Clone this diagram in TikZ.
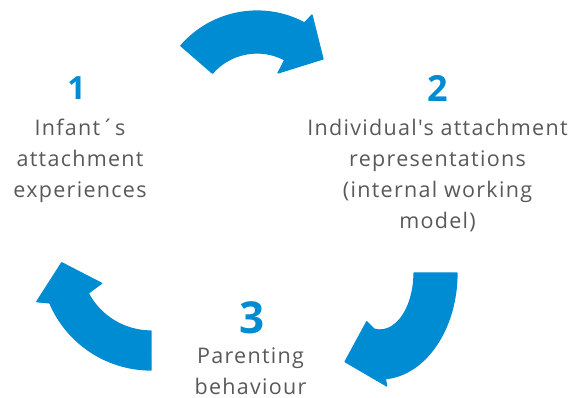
\documentclass[tikz,border=0pt]{standalone}
\usepackage{fontspec}
\setmainfont{Open Sans}[Ligatures=TeXOff,LetterSpace=6]
\definecolor{cycleblue}{RGB}{0,140,210}
\definecolor{labelgray}{RGB}{89,89,89}
\tikzset{
  bigarrow/.style={fill=cycleblue,draw=cycleblue,line width=1.2pt,line join=round},
  stepnum/.style={text=cycleblue,inner sep=0pt,font=\bfseries\fontsize{#1}{#1}\selectfont},
  steplabel/.style={text=labelgray,inner sep=0pt,align=center,anchor=base,
    font=\fontsize{21.5}{31}\selectfont}
}
\begin{document}
\begin{tikzpicture}[x=1pt,y=-1pt]
                \useasboundingbox (0,0) rectangle (569,398);

                % arrows
                \filldraw [bigarrow] (257,112) ++(-139:101)
                      arc[start angle=-139,end angle=-62,radius=101]
                      -- (312,15) -- (323,59) -- (278,73) -- (284.7,59.9)
                      arc[start angle=-62,end angle=-139,radius=59] -- cycle;
                \filldraw [bigarrow] (457,273)
                      arc[start angle=0,end angle=86,x radius=77,y radius=106]
                      -- (386.7,386) -- (345,361.7) -- (366.7,321.7) -- (374.1,329.1)
                      arc[start angle=100,end angle=0,x radius=34,y radius=57] -- cycle;
                \filldraw [bigarrow] (151,370)
                      arc[start angle=90,end angle=157,radius=110]
                      -- (36.7,301.7) -- (61.7,262.7) -- (101.7,283.3) -- (88.3,293.3)
                      arc[start angle=152,end angle=90,radius=71] -- cycle;

                \node [stepnum=32] (num1) at (76.5,88) {1};
                \node [stepnum=36] (num2) at (437.5,88) {2};
                \node [stepnum=44] (num3) at (251.7,317.5) {3};

                % labels (base = last line)
                \node [steplabel] (infant) at (80,197.5) {Infant´s\\attachment\\experiences};
                \node [steplabel] (model) at (437.5,228.5)
                      {Individual's attachment\\representations\\(internal working\\model)};
                \node [steplabel] (parenting) at (250.5,394.5) {Parenting\\behaviour};
            \end{tikzpicture}
\end{document}
